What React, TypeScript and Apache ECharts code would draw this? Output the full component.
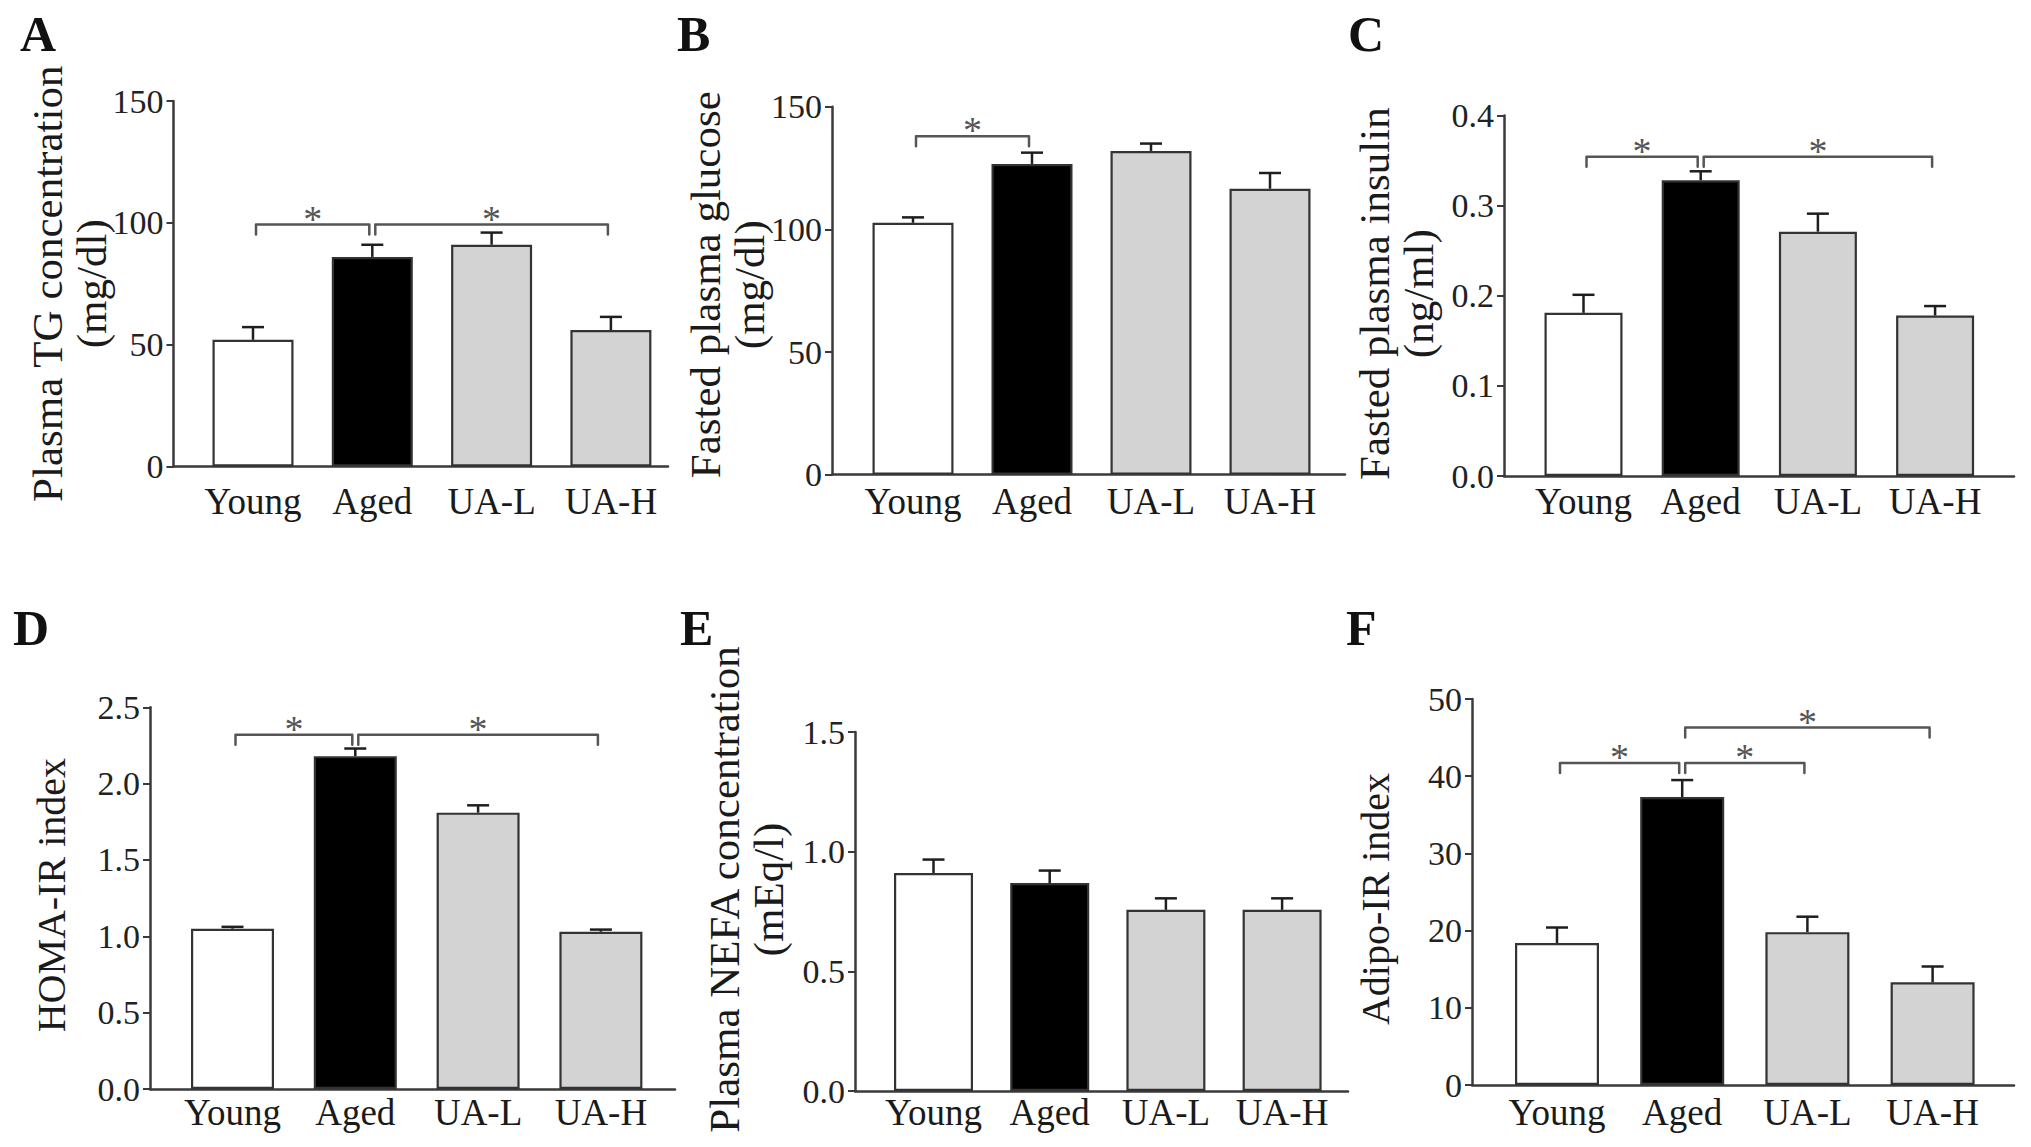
import React, { useEffect, useRef } from "react";
import * as echarts from "echarts";

// ---------- data ----------
const CATEGORIES = ["Young", "Aged", "UA-L", "UA-H"];

const tgMean = [52, 86, 91, 56];
const tgErr = [5.2, 5.0, 5.0, 5.4];
const tgSig = [[0, 1, 99.3], [1, 3, 99.3]];

const glucoseMean = [102.7, 126.7, 132.0, 116.6];
const glucoseErr = [2.2, 4.6, 3.0, 6.4];
const glucoseSig = [[0, 1, 138]];

const insulinMean = [0.181, 0.328, 0.271, 0.178];
const insulinErr = [0.02, 0.01, 0.02, 0.0105];
const insulinSig = [[0, 1, 0.354], [1, 3, 0.354]];

const homaMean = [1.05, 2.18, 1.81, 1.03];
const homaErr = [0.012, 0.05, 0.048, 0.014];
const homaSig = [[0, 1, 2.32], [1, 3, 2.32]];

const nefaMean = [0.911, 0.869, 0.757, 0.757];
const nefaErr = [0.056, 0.052, 0.048, 0.048];
const nefaSig: number[][] = [];

const adipoMean = [18.4, 37.3, 19.8, 13.3];
const adipoErr = [2.0, 2.2, 2.0, 2.05];
const adipoSig = [[0, 1, 41.7], [1, 2, 41.7], [1, 3, 46.3]];

// ---------- styles ----------
const SERIF = "'Liberation Serif', 'Times New Roman', serif";
const FILLS = ["#ffffff", "#000000", "#d3d3d3", "#d3d3d3"];
const AXIS = "#3a3a3a";
const BRACKET = "#555555";

type Layout = {
  axisX: number; rightX: number; c0: number; d: number; top: number; bottom: number;
  barWidth: number; nameGap: number; nameShift: number; nameSize: number; labelMargin: number;
  letterX: number; letterY: number;
};

const PANELS = [
  { letter: "A", title: "Plasma TG concentration\n(mg/dl)", mean: tgMean, err: tgErr, sig: tgSig, yMax: 150, yStep: 50, dec: 0,
    L: { axisX: 173.5, rightX: 668, c0: 253, d: 119.3, top: 101, bottom: 466.5, barWidth: 81, nameGap: 60, nameShift: 0, nameSize: 43, labelMargin: 16, letterX: 20, letterY: 34 } },
  { letter: "B", title: "Fasted plasma glucose\n(mg/dl)", mean: glucoseMean, err: glucoseErr, sig: glucoseSig, yMax: 150, yStep: 50, dec: 0,
    L: { axisX: 832, rightX: 1345, c0: 913, d: 119, top: 106.8, bottom: 474.6, barWidth: 81, nameGap: 61, nameShift: 12, nameSize: 43, labelMargin: 8, letterX: 677, letterY: 34 } },
  { letter: "C", title: "Fasted plasma insulin\n(ng/ml)", mean: insulinMean, err: insulinErr, sig: insulinSig, yMax: 0.4, yStep: 0.1, dec: 1,
    L: { axisX: 1504, rightX: 2014, c0: 1583.5, d: 117.2, top: 115.4, bottom: 476, barWidth: 78, nameGap: 64, nameShift: 4, nameSize: 43, labelMargin: 7, letterX: 1348, letterY: 34 } },
  { letter: "D", title: "HOMA-IR index", mean: homaMean, err: homaErr, sig: homaSig, yMax: 2.5, yStep: 0.5, dec: 1,
    L: { axisX: 150, rightX: 675, c0: 232.5, d: 122.8, top: 707.3, bottom: 1089, barWidth: 83, nameGap: 78, nameShift: 6, nameSize: 40, labelMargin: 5, letterX: 13, letterY: 628 } },
  { letter: "E", title: "Plasma NEFA concentration\n(mEq/l)", mean: nefaMean, err: nefaErr, sig: nefaSig, yMax: 1.5, yStep: 0.5, dec: 1,
    L: { axisX: 855, rightX: 1348, c0: 933.5, d: 116.2, top: 732, bottom: 1091, barWidth: 79, nameGap: 65, nameShift: 44, nameSize: 43, labelMargin: 3, letterX: 680, letterY: 628 } },
  { letter: "F", title: "Adipo-IR index", mean: adipoMean, err: adipoErr, sig: adipoSig, yMax: 50, yStep: 10, dec: 0,
    L: { axisX: 1472, rightX: 2014, c0: 1557, d: 125.2, top: 699, bottom: 1085, barWidth: 84, nameGap: 76, nameShift: -14, nameSize: 40, labelMargin: 9, letterX: 1346, letterY: 628 } },
];

function renderErr(params: any, api: any) {
  const x = api.value(0);
  const v = api.value(1);
  const e = api.value(2);
  const p0 = api.coord([x, v]);
  const p1 = api.coord([x, v + e]);
  const style = { stroke: "#1e1e1e", lineWidth: 2.5 };
  return {
    type: "group",
    children: [
      { type: "line", shape: { x1: p0[0], y1: p0[1], x2: p1[0], y2: p1[1] }, style },
      { type: "line", shape: { x1: p1[0] - 11, y1: p1[1], x2: p1[0] + 11, y2: p1[1] }, style },
    ],
  };
}

function renderSig(params: any, api: any) {
  const a = api.coord([api.value(0), api.value(2)]);
  const b = api.coord([api.value(1), api.value(2)]);
  const ax = a[0] + 3;
  const bx = b[0] - 3;
  const drop = 10;
  return {
    type: "group",
    children: [
      {
        type: "polyline",
        shape: { points: [[ax, a[1] + drop], [ax, a[1]], [bx, b[1]], [bx, b[1] + drop]] },
        style: { stroke: BRACKET, lineWidth: 2.5, fill: null, lineCap: "round", lineJoin: "round" },
      },
      {
        type: "text",
        x: (a[0] + b[0]) / 2,
        y: a[1] - 6,
        style: { text: "*", fontSize: 38, fontFamily: SERIF, fill: BRACKET, textAlign: "center", textVerticalAlign: "middle" },
      },
    ],
  };
}

function buildOption() {
  const grid: any[] = [];
  const xAxis: any[] = [];
  const yAxis: any[] = [];
  const series: any[] = [];
  const graphic: any[] = [];

  PANELS.forEach((p, k) => {
    const L: Layout = p.L;
    grid.push({
      left: L.axisX, top: L.top, width: L.rightX - L.axisX, height: L.bottom - L.top,
      containLabel: false, outerBoundsMode: "none",
    });
    const xmin = -(L.c0 - L.axisX) / L.d;
    const xmax = 3 + (L.rightX - (L.c0 + 3 * L.d)) / L.d;
    xAxis.push({
      type: "value", gridIndex: k, min: xmin, max: xmax,
      axisLine: { show: true, onZero: false, lineStyle: { color: AXIS, width: 2.5 } },
      axisTick: { show: false },
      splitLine: { show: false },
      axisLabel: {
        customValues: [0, 1, 2, 3],
        formatter: (v: number) => CATEGORIES[Math.round(v)] ?? "",
        fontSize: 37, fontFamily: SERIF, color: "#1a1a1a", margin: L.labelMargin,
      },
    });
    const pad = L.nameShift >= 0 ? [0, 0, 0, L.nameShift] : [0, -L.nameShift, 0, 0];
    yAxis.push({
      type: "value", gridIndex: k, min: 0, max: p.yMax, interval: p.yStep,
      name: p.title, nameLocation: "middle", nameGap: L.nameGap, nameRotate: 90, nameMoveOverlap: false,
      nameTextStyle: {
        fontSize: L.nameSize, fontFamily: SERIF, color: "#1a1a1a", lineHeight: L.nameSize + 1,
        padding: pad,
      },
      axisLine: { show: true, onZero: false, lineStyle: { color: AXIS, width: 2.5 } },
      axisTick: { show: true, length: 7, lineStyle: { color: AXIS, width: 2 } },
      splitLine: { show: false },
      axisLabel: {
        fontSize: 34, fontFamily: SERIF, color: "#222", margin: 10,
        formatter: (v: number) => v.toFixed(p.dec),
      },
    });
    series.push({
      type: "bar", xAxisIndex: k, yAxisIndex: k, barWidth: L.barWidth, silent: true,
      itemStyle: { borderColor: "#333", borderWidth: 2.2 },
      data: p.mean.map((v, i) => ({ value: [i, v], itemStyle: { color: FILLS[i] } })),
      z: 2,
    });
    series.push({
      type: "custom", xAxisIndex: k, yAxisIndex: k, silent: true, z: 3,
      data: p.mean.map((v, i) => [i, v, p.err[i]]),
      renderItem: renderErr,
    });
    if (p.sig.length) {
      series.push({
        type: "custom", xAxisIndex: k, yAxisIndex: k, silent: true, z: 4, clip: false,
        data: p.sig,
        renderItem: renderSig,
      });
    }
    graphic.push({
      type: "text", x: L.letterX, y: L.letterY,
      style: {
        text: p.letter, fontSize: 50, fontWeight: "bold", fontFamily: SERIF, fill: "#111",
        textAlign: "left", textVerticalAlign: "middle",
      },
    });
  });

  return { animation: false, backgroundColor: "#ffffff", grid, xAxis, yAxis, series, graphic };
}

export default function App() {
  const ref = useRef<HTMLDivElement>(null);
  useEffect(() => {
    if (!ref.current) return;
    const chart = echarts.init(ref.current, null, { renderer: "svg" });
    chart.setOption(buildOption() as any);
    return () => chart.dispose();
  }, []);
  return (
    <div
      ref={ref}
      style={{ position: "fixed", left: 0, top: 0, width: 2031, height: 1147, background: "#fff" }}
    />
  );
}
